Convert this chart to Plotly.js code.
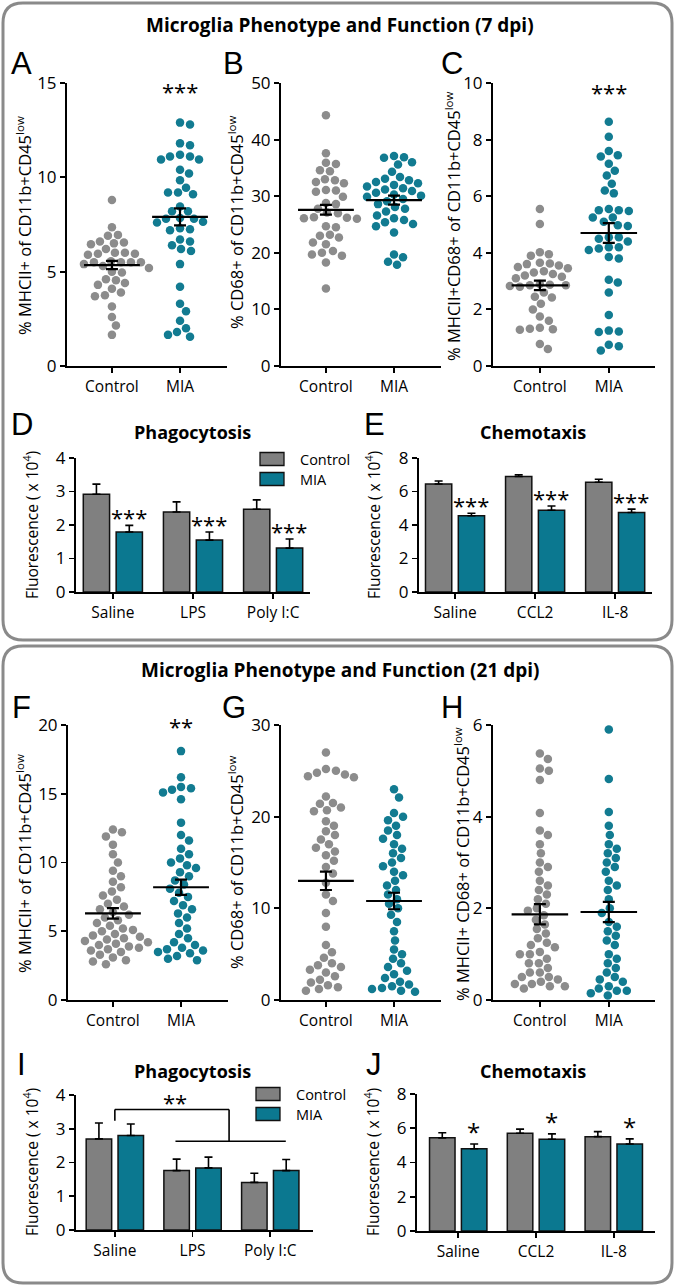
<!DOCTYPE html>
<html><head><meta charset="utf-8">
<script src="https://cdn.plot.ly/plotly-3.0.1.min.js"></script>
<style>html,body{margin:0;padding:0;background:#fff}#chart{width:677px;height:1287px}</style>
</head><body><div id="chart"></div>
<script>
// ---------------- DATA ----------------
const groups = ['Control', 'MIA'];
const seriesNames = ['Control', 'MIA'];
// 7 dpi
const aControl = [8.8,7.35,6.95,6.9,6.6,6.55,6.5,6.45,6.2,6.0,6.0,5.95,5.95,5.9,5.55,5.5,5.5,5.5,5.5,5.4,5.3,5.2,5.0,4.95,4.6,4.55,4.4,4.3,4.1,3.9,3.75,3.7,3.15,2.6,2.15,1.65];
const aMIA = [12.9,12.8,11.8,11.7,11.2,11.1,11.1,10.95,10.95,10.4,10.2,9.85,9.45,9.2,9.2,9.1,8.45,8.2,8.2,7.85,7.8,7.8,7.65,7.6,7.3,7.25,7.2,6.7,6.6,6.4,6.2,6.1,5.4,4.2,3.3,2.9,2.4,2.0,1.8,1.65,1.55];
const aMean = [5.35, 7.9], aSem = [0.22, 0.45];
const bControl = [44.3,37.6,35.9,35.7,34.6,34.4,33.0,32.8,32.5,32.3,31.1,31.0,30.8,29.9,28.8,28.6,27.8,27.1,27.0,26.3,26.2,26.1,26.0,24.7,24.5,23.2,23.0,22.7,21.8,21.5,20.3,20.0,19.7,19.5,18.3,13.7];
const bMIA = [37.1,36.9,36.8,36.0,35.6,34.3,33.4,33.1,32.8,32.5,32.3,32.0,31.7,31.4,31.2,30.9,30.6,30.3,30.1,29.9,29.5,29.1,28.6,28.1,27.8,27.3,26.6,26.1,25.8,25.4,25.1,24.7,23.6,19.7,19.2,18.4,17.9];
const bMean = [27.6, 29.3], bSem = [0.85, 0.8];
const cControl = [5.55,5.02,4.02,3.95,3.9,3.65,3.62,3.6,3.55,3.5,3.45,3.35,3.3,3.25,3.2,3.15,3.1,2.9,2.87,2.85,2.85,2.83,2.8,2.6,2.45,2.42,2.2,2.0,1.75,1.6,1.35,1.32,1.3,1.28,0.78,0.6];
const cMIA = [8.63,8.1,7.6,7.45,7.4,7.15,6.9,6.73,6.44,6.2,6.1,5.55,5.5,5.5,5.48,5.25,5.25,5.1,4.97,4.95,4.55,4.55,4.5,4.4,4.2,4.2,4.15,4.1,3.85,3.8,3.05,2.95,2.6,1.8,1.25,1.22,1.2,0.75,0.7,0.55];
const cMean = [2.85, 4.7], cSem = [0.17, 0.35];
const phagoCats = ['Saline', 'LPS', 'Poly I:C'];
const chemoCats = ['Saline', 'CCL2', 'IL-8'];
const dControl = [2.92, 2.39, 2.47], dControlErr = [0.3, 0.3, 0.28];
const dMIA = [1.79, 1.55, 1.31], dMIAErr = [0.2, 0.24, 0.27];
const eControl = [6.45, 6.9, 6.55], eControlErr = [0.18, 0.1, 0.18];
const eMIA = [4.55, 4.88, 4.75], eMIAErr = [0.15, 0.25, 0.2];
// 21 dpi
const fControl = [12.4,12.2,11.9,11.3,10.6,10.0,9.4,9.0,8.6,8.2,7.9,7.6,7.3,7.0,6.8,6.6,6.4,6.2,6.0,5.8,5.6,5.4,5.2,5.1,5.0,4.8,4.7,4.6,4.5,4.4,4.3,4.2,4.1,4.0,3.9,3.8,3.7,3.6,3.5,3.3,3.1,2.9,2.8,2.6];
const fMIA = [18.1,16.2,15.5,15.4,15.3,15.1,14.6,12.9,12.0,11.6,11.0,10.6,10.3,10.0,9.8,9.6,9.3,9.0,8.7,8.4,8.1,7.8,7.5,7.2,6.9,6.6,6.3,6.0,5.6,5.2,4.8,4.5,4.2,4.0,3.8,3.7,3.6,3.5,3.4,3.2,3.0,2.9];
const fMean = [6.3, 8.2], fSem = [0.38, 0.55];
const gControl = [27.0,25.2,25.0,24.8,24.6,24.4,24.3,22.2,21.5,21.4,21.0,20.7,20.6,19.5,19.0,18.4,18.0,17.5,17.0,16.6,16.2,15.8,15.2,14.5,13.8,12.8,11.5,10.8,9.5,8.0,6.0,5.2,4.6,4.0,3.8,3.6,3.3,3.0,2.6,2.2,1.9,1.6,1.4,1.2,1.0];
const gMIA = [23.0,22.1,20.4,20.0,19.6,19.0,18.5,18.0,17.6,17.0,16.5,16.0,15.5,15.0,14.6,14.0,13.6,13.0,12.5,12.0,11.5,11.0,10.5,10.0,9.3,8.5,7.5,6.5,5.5,5.0,4.5,4.0,3.6,3.2,2.8,2.4,2.0,1.7,1.5,1.3,1.2,1.0,0.9];
const gMean = [13.0, 10.8], gSem = [1.0, 0.9];
const hControl = [5.38,5.26,5.05,5.0,4.8,4.08,3.7,3.6,3.4,3.2,3.0,2.9,2.8,2.6,2.5,2.4,2.3,2.2,2.1,2.0,1.95,1.85,1.75,1.65,1.55,1.45,1.35,1.25,1.2,1.15,1.05,1.0,1.0,0.9,0.8,0.8,0.7,0.6,0.6,0.5,0.5,0.45,0.4,0.35,0.35,0.3,0.3,0.25];
const hMIA = [5.9,4.82,4.1,3.8,3.6,3.4,3.3,3.2,3.1,3.0,2.9,2.8,2.6,2.5,2.4,2.2,2.0,1.9,1.7,1.6,1.5,1.4,1.3,1.2,1.0,0.9,0.8,0.7,0.6,0.5,0.45,0.4,0.3,0.25,0.2,0.2,0.15,0.1];
const hMean = [1.87, 1.92], hSem = [0.22, 0.22];
const iControl = [2.70, 1.76, 1.41], iControlErr = [0.47, 0.34, 0.27];
const iMIA = [2.80, 1.84, 1.76], iMIAErr = [0.34, 0.32, 0.33];
const jControl = [5.44, 5.71, 5.51], jControlErr = [0.3, 0.24, 0.29];
const jMIA = [4.80, 5.36, 5.08], jMIAErr = [0.28, 0.31, 0.3];

// ---------------- STYLE / LAYOUT ----------------
const W = 677, H = 1287;
const FONT = 'Open Sans, sans-serif';
const DOT = ['#8c8c8c', '#127b91'];
const BAR = ['#808080', '#0b7890'];
const px2x = p => p / W, px2y = p => 1 - p / H;
const traces = [], shapes = [], annotations = [];
const layout = {
  width: W, height: H, margin: {l: 0, r: 0, t: 0, b: 0},
  paper_bgcolor: '#fff', plot_bgcolor: 'rgba(0,0,0,0)',
  showlegend: false, barmode: 'group', bargap: 0.18, bargroupgap: 0.2,
  font: {family: FONT, color: '#000', size: 15},
  shapes, annotations
};

function axisBase() {
  return {showline: true, linecolor: '#000', linewidth: 2, ticks: 'outside', ticklen: 5,
    tickwidth: 1.8, tickcolor: '#000', showgrid: false, zeroline: false, fixedrange: true,
    tickfont: {family: FONT, size: 15.5, color: '#000'}};
}
function setAxes(n, cfg) {
  const s = n === 1 ? '' : n;
  layout['xaxis' + s] = Object.assign(axisBase(), {
    domain: [px2x(cfg.x[0]), px2x(cfg.x[1])], range: cfg.xr, anchor: 'y' + s,
    tickvals: cfg.tv, ticktext: cfg.tt
  });
  layout['yaxis' + s] = Object.assign(axisBase(), {
    domain: [px2y(cfg.y[1]), px2y(cfg.y[0])], range: cfg.yr, anchor: 'x' + s, dtick: cfg.dt,
    tickfont: {family: FONT, size: 17, color: '#000'}
  });
  return s;
}
function swarm(vals, center, pxX, pxY, d) {
  const order = vals.map((v, i) => i).sort((a, b) => vals[b] - vals[a]);
  const placed = [], xs = new Array(vals.length);
  for (const i of order) {
    const yp = vals[i] * pxY;
    let off = 0;
    for (let s = 0; s < 400; s++) {
      const cand = s === 0 ? 0 : (s % 2 ? 1 : -1) * Math.ceil(s / 2) * 1;
      if (placed.every(p => (p.x - cand) ** 2 + (p.y - yp) ** 2 >= d * d)) { off = cand; break; }
    }
    placed.push({x: off, y: yp});
    xs[i] = center + off / pxX;
  }
  return xs;
}
function scatterPanel(n, ctrl, mia, means, sems, cfg) {
  cfg.tv = [0, 1]; cfg.tt = groups;
  const s = setAxes(n, cfg);
  const pxX = (cfg.x[1] - cfg.x[0]) / (cfg.xr[1] - cfg.xr[0]);
  const pxY = (cfg.y[1] - cfg.y[0]) / (cfg.yr[1] - cfg.yr[0]);
  [ctrl, mia].forEach((vals, g) => {
    traces.push({type: 'scatter', mode: 'markers', name: seriesNames[g], x: swarm(vals, g, pxX, pxY, 9.2), y: vals,
      xaxis: 'x' + s, yaxis: 'y' + s, marker: {color: DOT[g], size: 8.5}, cliponaxis: false, hoverinfo: 'y'});
  });
  means.forEach((m, g) => {
    traces.push({type: 'scatter', mode: 'lines', x: [g - 0.41, g + 0.41], y: [m, m], xaxis: 'x' + s, yaxis: 'y' + s,
      line: {color: '#000', width: 2.2}, hoverinfo: 'skip'});
  });
  traces.push({type: 'scatter', mode: 'markers', x: [0, 1], y: means, xaxis: 'x' + s, yaxis: 'y' + s,
    marker: {size: 1, color: 'rgba(0,0,0,0)'},
    error_y: {type: 'data', array: sems, width: 6, thickness: 2.2, color: '#000'}, hoverinfo: 'skip'});
}
function barPanel(n, cats, c, cErr, m, mErr, cfg) {
  cfg.tv = undefined; cfg.tt = undefined;
  const s = setAxes(n, cfg);
  layout['xaxis' + s].type = 'category';
  [[c, cErr], [m, mErr]].forEach(([v, e], g) => {
    traces.push({type: 'bar', name: seriesNames[g], x: cats, y: v, xaxis: 'x' + s, yaxis: 'y' + s,
      marker: {color: BAR[g], line: {color: '#111', width: 1.5}},
      error_y: {type: 'data', symmetric: false, array: e, arrayminus: e.map(() => 0), width: 4, thickness: 1.6, color: '#000'},
      hoverinfo: 'y'});
  });
}

// Panels
scatterPanel(1, aControl, aMIA, aMean, aSem, {x: [67, 227], y: [83, 366], xr: [-0.66, 1.69], yr: [0, 15], dt: 5});
scatterPanel(2, bControl, bMIA, bMean, bSem, {x: [281, 441], y: [83, 366], xr: [-0.66, 1.69], yr: [0, 50], dt: 10});
scatterPanel(3, cControl, cMIA, cMean, cSem, {x: [493, 655], y: [83, 366], xr: [-0.68, 1.67], yr: [0, 10], dt: 2});
barPanel(4, phagoCats, dControl, dControlErr, dMIA, dMIAErr, {x: [76, 310], y: [458, 592], xr: [-0.46, 2.46], yr: [0, 4], dt: 1});
barPanel(5, chemoCats, eControl, eControlErr, eMIA, eMIAErr, {x: [419, 652], y: [458, 592], xr: [-0.45, 2.46], yr: [0, 8], dt: 2});
scatterPanel(6, fControl, fMIA, fMean, fSem, {x: [68, 228], y: [725, 1000], xr: [-0.66, 1.69], yr: [0, 20], dt: 5});
scatterPanel(7, gControl, gMIA, gMean, gSem, {x: [281, 441], y: [725, 1000], xr: [-0.66, 1.69], yr: [0, 30], dt: 10});
scatterPanel(8, hControl, hMIA, hMean, hSem, {x: [493, 655], y: [725, 1000], xr: [-0.68, 1.67], yr: [0, 6], dt: 2});
barPanel(9, phagoCats, iControl, iControlErr, iMIA, iMIAErr, {x: [76, 313], y: [1095, 1230], xr: [-0.5, 2.55], yr: [0, 4], dt: 1});
barPanel(10, chemoCats, jControl, jControlErr, jMIA, jMIAErr, {x: [417, 655], y: [1094, 1231], xr: [-0.53, 2.53], yr: [0, 8], dt: 2});

// Boxes
function rrect(x0, y0, x1, y1, r) {
  const X = v => px2x(v).toFixed(5), Y = v => px2y(v).toFixed(5);
  return `M${X(x0 + r)},${Y(y0)} L${X(x1 - r)},${Y(y0)} Q${X(x1)},${Y(y0)} ${X(x1)},${Y(y0 + r)} ` +
    `L${X(x1)},${Y(y1 - r)} Q${X(x1)},${Y(y1)} ${X(x1 - r)},${Y(y1)} L${X(x0 + r)},${Y(y1)} ` +
    `Q${X(x0)},${Y(y1)} ${X(x0)},${Y(y1 - r)} L${X(x0)},${Y(y0 + r)} Q${X(x0)},${Y(y0)} ${X(x0 + r)},${Y(y0)} Z`;
}
shapes.push({type: 'path', xref: 'paper', yref: 'paper', path: rrect(3, 3, 672, 640, 20), line: {color: '#8a8a8a', width: 3}, layer: 'below'});
shapes.push({type: 'path', xref: 'paper', yref: 'paper', path: rrect(3, 646, 672, 1283, 20), line: {color: '#8a8a8a', width: 3}, layer: 'below'});

function txt(text, x, y, size, opts) {
  annotations.push(Object.assign({text, x: px2x(x), y: px2y(y), xref: 'paper', yref: 'paper', showarrow: false,
    xanchor: 'center', yanchor: 'middle', font: {family: FONT, size, color: '#000'}}, opts || {}));
}
// Titles
txt('<b>Microglia Phenotype and Function (7 dpi)</b>', 340, 25, 19);
txt('<b>Microglia Phenotype and Function (21 dpi)</b>', 340, 670, 19);
txt('<b>Phagocytosis</b>', 192, 432, 18);
txt('<b>Chemotaxis</b>', 533, 432, 18);
txt('<b>Phagocytosis</b>', 192, 1071, 18);
txt('<b>Chemotaxis</b>', 533, 1071, 18);
// Panel letters
const LF = 'Liberation Sans, Arial, sans-serif';
[['A', 22, 64], ['B', 233, 64], ['C', 452, 64], ['D', 22, 425], ['E', 374, 425],
 ['F', 22, 707], ['G', 234, 707], ['H', 452, 707], ['I', 22, 1064], ['J', 374, 1064]].forEach(([t, x, y]) =>
  txt(t, x, y, 31, {font: {family: LF, size: 31, color: '#000'}}));
// Y axis titles
const yt = (t, x, y, s) => txt(t, x, y, s, {textangle: -90});
yt('% MHCII+ of CD11b+CD45<sup>low</sup>', 24, 226, 16.5);
yt('% CD68+ of CD11b+CD45<sup>low</sup>', 236, 222, 16.5);
yt('% MHCII+CD68+ of CD11b+CD45<sup>low</sup>', 453, 226, 16.5);
yt('Fluorescence ( x 10<sup>4</sup>)', 31, 525, 15.5);
yt('Fluorescence ( x 10<sup>4</sup>)', 373, 525, 15.5);
yt('% MHCII+ of CD11b+CD45<sup>low</sup>', 24, 864, 16.5);
yt('% CD68+ of CD11b+CD45<sup>low</sup>', 236, 862, 16.5);
yt('% MHCII+ CD68+ of CD11b+CD45<sup>low</sup>', 462, 864, 16.5);
yt('Fluorescence ( x 10<sup>4</sup>)', 31, 1162, 15.5);
yt('Fluorescence ( x 10<sup>4</sup>)', 372, 1162, 15.5);

// Legends (D and I)
function legend(x, yc) {
  seriesNames.forEach((nm, g) => {
    const y = yc + g * 20;
    shapes.push({type: 'rect', xref: 'paper', yref: 'paper', x0: px2x(x), x1: px2x(x + 24), y0: px2y(y + 6.5), y1: px2y(y - 6.5),
      fillcolor: BAR[g], line: {color: '#111', width: 1.3}});
    txt(nm, x + 38, y, 14.5, {xanchor: 'left'});
  });
}
legend(260, 459);
legend(256, 1094);

// Significance stars (data coordinates)
function star(n, x, y, t, size, shift) {
  annotations.push({text: t, x, y, xref: 'x' + n, yref: 'y' + n, showarrow: false, xanchor: 'center', yanchor: 'bottom',
    yshift: shift, font: {family: FONT, size, color: '#000'}});
}
star('', 1, 14.0, '***', 22, -6);
star(3, 1, 9.3, '***', 22, -6);
star(6, 1, 19.1, '**', 22, -6);
dMIA.forEach((v, i) => star(4, i + 0.2, v + dMIAErr[i], '***', 22, -9));
eMIA.forEach((v, i) => star(5, i + 0.2, v + eMIAErr[i], '***', 22, -9));
jMIA.forEach((v, i) => star(10, i + 0.2, v + jMIAErr[i], '*', 24, -6));
// I bracket
const br = [[0, 3.57, 1.47, 3.57], [0, 3.57, 0, 3.24], [1.47, 3.57, 1.47, 2.63], [0.78, 2.63, 2.2, 2.63]];
br.forEach(([x0, y0, x1, y1]) => shapes.push({type: 'line', xref: 'x9', yref: 'y9', x0, y0, x1, y1, line: {color: '#000', width: 1.6}}));
annotations.push({text: '**', x: 0.77, y: 3.57, xref: 'x9', yref: 'y9', showarrow: false, yanchor: 'bottom', yshift: -9,
  font: {family: FONT, size: 22, color: '#000'}});

Plotly.newPlot('chart', traces, layout, {staticPlot: true, displayModeBar: false});
</script>
</body></html>
